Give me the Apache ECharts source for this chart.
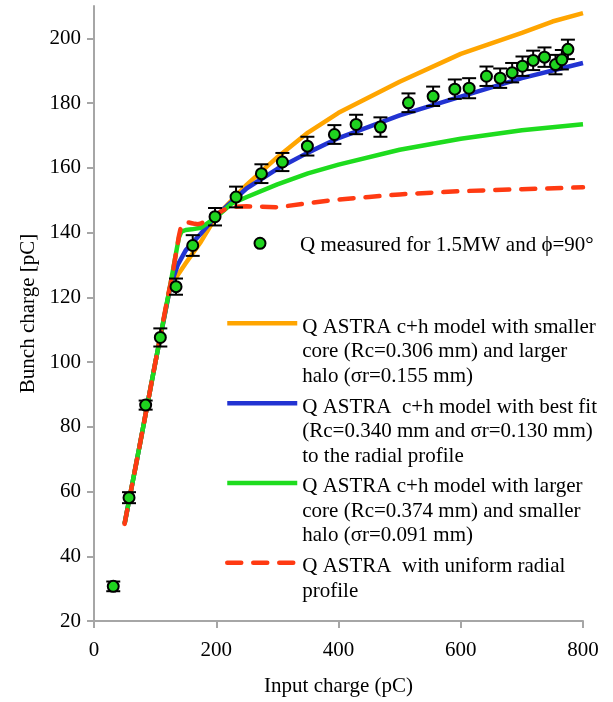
<!DOCTYPE html>
<html>
<head>
<meta charset="utf-8">
<script src="https://cdn.jsdelivr.net/npm/echarts@6/dist/echarts.min.js"></script>
<style>
  html, body { margin: 0; padding: 0; background: #ffffff; }
  #chart { width: 613px; height: 702px; }
</style>
</head>
<body>
<div id="chart"></div>
<script>
// Measured bunch charge (pC) against input charge (pC), with error half-widths
const measuredX = [31.5, 57.3, 84.5, 108.5, 134.2, 161.5, 198, 232.4, 273.9, 308.2, 349.1, 393.3, 428.8, 468.6, 514.5, 554.8, 590.3, 613.7, 642.1, 664.5, 684.1, 701, 718.5, 737, 755, 765.4, 775.3];
const measuredQ = [30.7, 58.1, 86.7, 107.6, 123.3, 136.0, 144.9, 151.0, 158.2, 161.8, 166.7, 170.3, 173.4, 172.6, 180.1, 182.1, 184.3, 184.6, 188.3, 187.7, 189.4, 191.4, 193.2, 194.2, 191.9, 193.4, 196.6];
const measuredErr = [1.5, 1.7, 1.4, 2.8, 2.5, 3.2, 2.7, 3.2, 2.9, 2.8, 2.9, 2.9, 3.0, 3.0, 2.9, 3.0, 3.0, 3.1, 3.0, 3.0, 3.0, 3.0, 3.0, 3.0, 3.0, 3.0, 3.0];

// ASTRA simulations
const orangeX = [50, 75, 100, 125, 150, 175, 200, 250, 300, 350, 400, 500, 600, 700, 750, 800];
const orangeQ = [50, 74.5, 99.5, 123.5, 130.5, 137.2, 145, 154.8, 163.3, 170.9, 177, 186.6, 195.2, 201.7, 205.2, 207.8];

const blueX = [50, 75, 100, 125, 137, 150, 175, 200, 250, 300, 350, 400, 500, 600, 700, 800];
const blueQ = [50, 74.5, 99.5, 123.5, 130, 134.5, 139.7, 145.2, 153.7, 159.7, 164.7, 169.2, 176.2, 182, 187.7, 192.4];

const greenX = [50, 75, 100, 125, 135, 139, 143, 150, 160, 175, 200, 225, 250, 300, 350, 400, 500, 600, 700, 800];
const greenQ = [50, 74.5, 99.5, 124, 134.5, 138.5, 140.3, 140.8, 141, 141.5, 144.8, 148.9, 151, 154.9, 158.3, 161, 165.6, 169, 171.6, 173.5];

const redX = [50, 75, 100, 120, 125, 130, 135, 139, 142, 146, 150, 155, 160, 165, 170, 175, 180, 190, 200, 210, 220, 230, 250, 275, 300, 350, 400, 450, 500, 600, 700, 800];
const redQ = [50, 74.5, 99.5, 119.5, 124, 129, 134.5, 139, 141.6, 142.8, 143.1, 143.1, 142.9, 142.7, 142.6, 142.8, 143.3, 144.2, 145.5, 146.8, 147.6, 148, 148.1, 148, 147.8, 149.1, 150.2, 151, 151.8, 152.8, 153.4, 154];

// Axis ticks
const xTicks = [0, 200, 400, 600, 800];
const yTicks = [20, 40, 60, 80, 100, 120, 140, 160, 180, 200];

// Legend labels
const seriesNames = [
  'Q measured for 1.5MW and \u03D5=90\u00B0',
  'Q ASTRA c+h model with smaller\ncore (Rc=0.306 mm) and larger\nhalo (\u03C3r=0.155 mm)',
  'Q ASTRA  c+h model with best fit\n(Rc=0.340 mm and \u03C3r=0.130 mm)\nto the radial profile',
  'Q ASTRA c+h model with larger\ncore (Rc=0.374 mm) and smaller\nhalo (\u03C3r=0.091 mm)',
  'Q ASTRA  with uniform radial\nprofile'
];

const FONT = 'Liberation Serif';
const FS = 21;
const LH = 24.5;

const pairs = (xs, ys) => xs.map((x, i) => [x, ys[i]]);

// Legend entries: icon centre (x, y) and drop of the first text line below the icon
const legendIconX = [259, 225, 225, 225, 225];
const legendIconY = [243.3, 323.3, 403.3, 483, 562.7];
const legendTextDrop = [1.7, 3.8, 3.8, 3.8, 3.8];

const legends = seriesNames.map((name, i) => {
  const lines = name.split('\n');
  const n = lines.length;
  // a thin leading spacer line pushes the wrapped label down so that
  // its first line sits next to the icon
  const spacer = (n - 1) * LH + 2 * legendTextDrop[i];
  const boxH = n * LH + spacer;
  const isMarker = i === 0;
  return {
    data: [name],
    orient: 'vertical',
    left: isMarker ? legendIconX[i] - 5.5 : legendIconX[i],
    top: legendIconY[i] - boxH / 2,
    padding: 0,
    itemWidth: 70,
    itemHeight: isMarker ? 11 : 4,
    selectedMode: false,
    lineStyle: { width: 'inherit' },
    itemStyle: isMarker ? { borderWidth: 'inherit' } : { opacity: 0 },
    formatter: () => '{s| }\n' + lines.map(l => '{t|' + l + '}').join('\n'),
    textStyle: {
      fontFamily: FONT, fontSize: FS, color: '#000',
      rich: {
        s: { fontSize: 2, lineHeight: spacer, height: spacer },
        t: { fontFamily: FONT, fontSize: FS, lineHeight: LH, color: '#000' }
      }
    }
  };
});

const lineSeries = (name, data, color, extra) => Object.assign({
  type: 'line', name, data, showSymbol: false, symbol: 'none', smooth: false,
  lineStyle: { color, width: 4.5 }, itemStyle: { color }, z: 2, silent: true
}, extra || {});

const chart = echarts.init(document.getElementById('chart'), null, { renderer: 'canvas' });
chart.setOption({
  animation: false,
  backgroundColor: '#ffffff',
  textStyle: { fontFamily: FONT },
  grid: { left: 94, right: 30, top: 6, bottom: 80 },
  legend: legends,
  xAxis: {
    type: 'value', min: 0, max: 800, interval: 200,
    name: 'Input charge (pC)', nameLocation: 'middle', nameGap: 55,
    nameTextStyle: { fontFamily: FONT, fontSize: FS, color: '#000' },
    axisLine: { show: true, lineStyle: { color: '#a6a6a6', width: 2 } },
    axisTick: { show: true, length: 7, lineStyle: { color: '#a6a6a6', width: 2 }, customValues: xTicks },
    axisLabel: { fontFamily: FONT, fontSize: FS, color: '#000', margin: 19, customValues: xTicks },
    splitLine: { show: false }
  },
  yAxis: {
    type: 'value', min: 20, max: 210, interval: 20,
    name: 'Bunch charge [pC]', nameLocation: 'middle', nameGap: 54, nameRotate: 90,
    nameTextStyle: { fontFamily: FONT, fontSize: FS, color: '#000' },
    axisLine: { show: true, lineStyle: { color: '#a6a6a6', width: 2 } },
    axisTick: { show: true, length: 7, lineStyle: { color: '#a6a6a6', width: 2 }, customValues: yTicks },
    axisLabel: { fontFamily: FONT, fontSize: FS, color: '#000', margin: 13, customValues: yTicks },
    splitLine: { show: false }
  },
  series: [
    lineSeries(seriesNames[1], pairs(orangeX, orangeQ), '#FFA500'),
    lineSeries(seriesNames[2], pairs(blueX, blueQ), '#2233D2'),
    lineSeries(seriesNames[3], pairs(greenX, greenQ), '#1EDC1E'),
    lineSeries(seriesNames[4], pairs(redX, redQ), '#FF3A12', {
      lineStyle: { color: '#FF3A12', width: 4.5, type: [14, 12], cap: 'round' }
    }),
    {
      type: 'custom',
      name: 'error bars',
      silent: true,
      z: 3,
      data: measuredX.map((x, i) => [x, measuredQ[i] - measuredErr[i], measuredQ[i] + measuredErr[i]]),
      encode: { x: 0, y: [1, 2] },
      renderItem: (params, api) => {
        const x = api.value(0);
        const lo = api.coord([x, api.value(1)]);
        const hi = api.coord([x, api.value(2)]);
        const hw = 7;
        const st = { stroke: '#000', lineWidth: 2 };
        return {
          type: 'group',
          children: [
            { type: 'line', shape: { x1: lo[0], y1: lo[1], x2: hi[0], y2: hi[1] }, style: st },
            { type: 'line', shape: { x1: lo[0] - hw, y1: lo[1], x2: lo[0] + hw, y2: lo[1] }, style: st },
            { type: 'line', shape: { x1: hi[0] - hw, y1: hi[1], x2: hi[0] + hw, y2: hi[1] }, style: st }
          ]
        };
      }
    },
    {
      type: 'scatter',
      name: seriesNames[0],
      data: pairs(measuredX, measuredQ),
      symbol: 'circle',
      symbolSize: 11,
      z: 4,
      silent: true,
      itemStyle: { color: '#1FD41F', borderColor: '#000', borderWidth: 2, opacity: 1 }
    }
  ]
});
</script>
</body>
</html>
